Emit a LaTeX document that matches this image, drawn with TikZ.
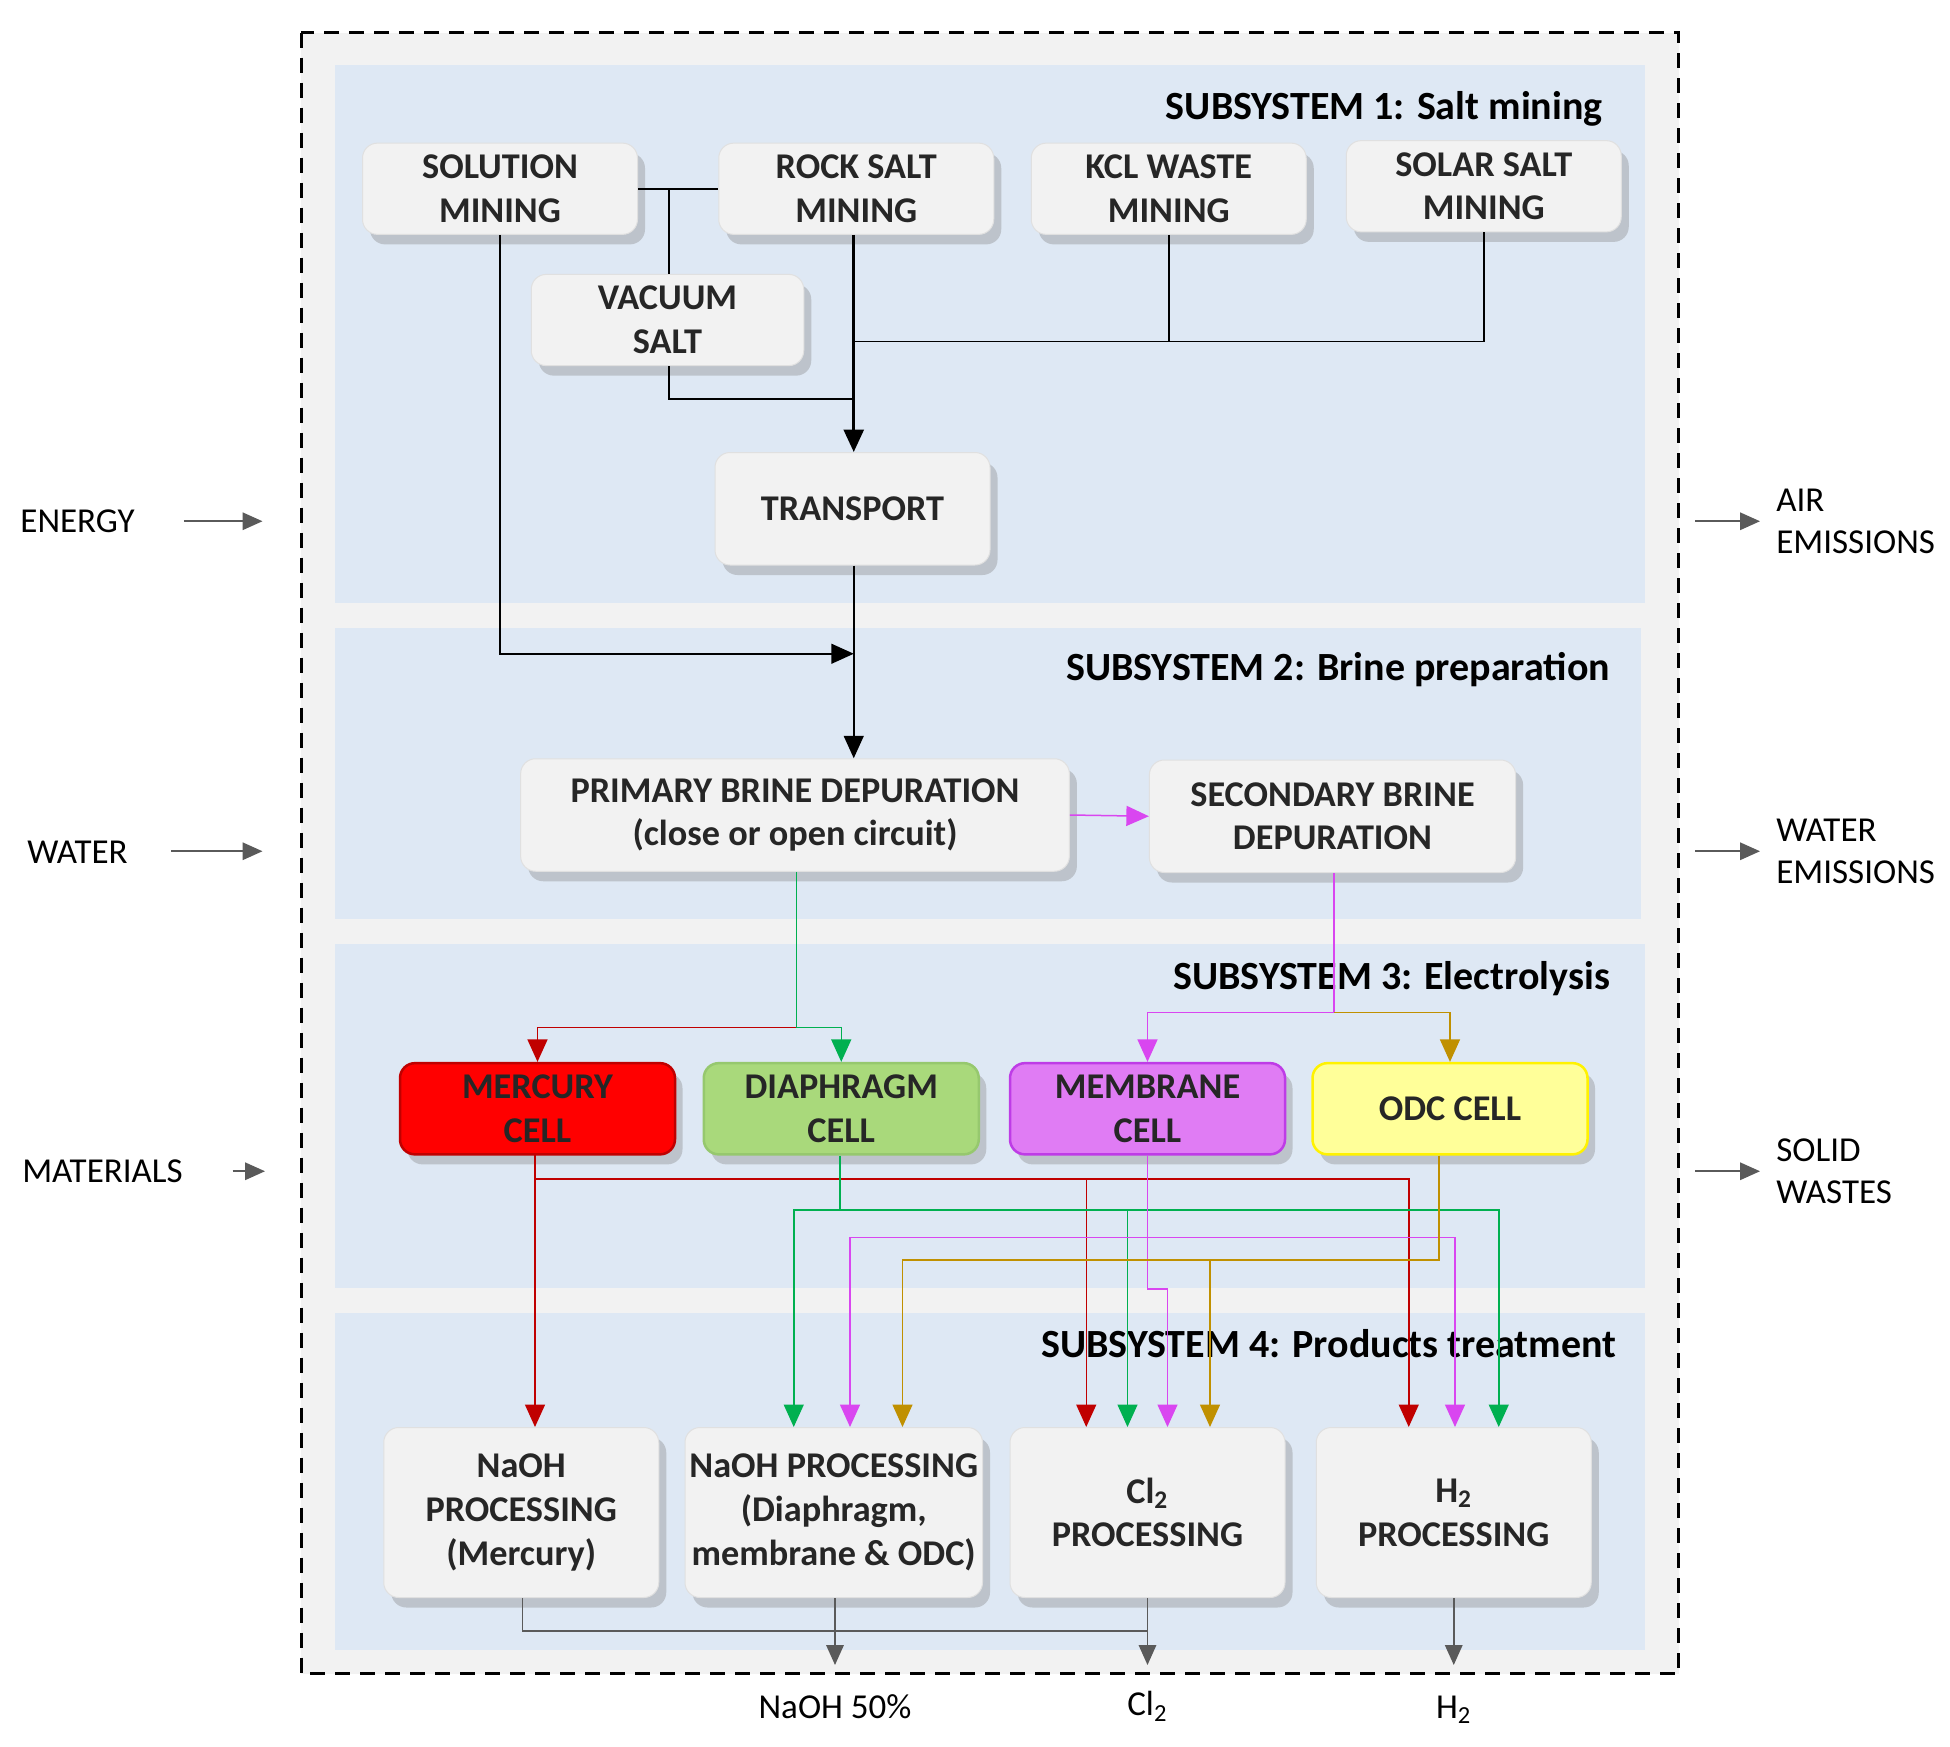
\documentclass[tikz,border=0pt]{standalone}
\usepackage{fontspec}
\setmainfont{Carlito}
\usetikzlibrary{shadows,arrows.meta,calc}
\definecolor{bgout}{HTML}{F2F2F2}
\definecolor{band}{HTML}{DEE8F4}
\definecolor{boxf}{HTML}{F2F2F2}
\definecolor{rc}{HTML}{C00000}
\definecolor{gc}{HTML}{00B050}
\definecolor{mc}{HTML}{D946F0}
\definecolor{oc}{HTML}{C09000}
\definecolor{gy}{HTML}{5A5A5A}
\begin{document}
\begin{tikzpicture}[x=0.5pt,y=-0.5pt,
  box/.style={draw=black!12,fill=boxf,rounded corners=6pt,minimum width=110pt,minimum height=36.5pt,align=center,
    font=\fontsize{14.5}{17.5}\selectfont\bfseries,text=black!85,
    drop shadow={shadow xshift=3pt,shadow yshift=-4pt,opacity=0.35,fill=gray}},
  ttl/.style={anchor=east,font=\fontsize{16}{18}\selectfont\bfseries},
  side/.style={font=\fontsize{14}{17}\selectfont,align=left},
  tip/.style={-{Triangle[width=8pt,length=9pt]}},
  ln/.style={line width=0.6pt},
  ga/.style={draw=gy,line width=0.7pt,-{Triangle[width=7pt,length=8pt]}}]
\useasboundingbox (0,0) rectangle (1560,1397);
\fill[white] (0,0) rectangle (1560,1397);
\draw[dashed,line width=1.3pt,fill=bgout,dash pattern=on 6pt off 4pt] (241,26) rectangle (1343,1339);
\fill[band] (268,52) rectangle (1316,482);
\fill[band] (268,502) rectangle (1313,735);
\fill[band] (268,755) rectangle (1316,1030);
\fill[band] (268,1050) rectangle (1316,1320);
\node[ttl] (t1) at (1289,87) {SUBSYSTEM 1: Salt mining};
\node[ttl] (t2) at (1295,536) {SUBSYSTEM 2: Brine preparation};
\node[ttl] (t3) at (1295,783) {SUBSYSTEM 3: Electrolysis};
\node[ttl] (t4) at (1300,1075) {SUBSYSTEM 4: Products treatment};
% boxes
\node[box] (sol) at (400,151) {SOLUTION\\MINING};
\node[box] (rock) at (685,151) {ROCK SALT\\MINING};
\node[box] (kcl) at (935,151) {KCL WASTE\\MINING};
\node[box] (solar) at (1187,149) {SOLAR SALT\\MINING};
\node[box,minimum width=109pt] (vac) at (534,256) {VACUUM\\SALT};
\node[box,minimum height=45pt] (trans) at (682,407) {TRANSPORT};
\node[box,minimum width=219.5pt,minimum height=45pt] (prim) at (636,652) {PRIMARY BRINE DEPURATION\\(close or open circuit)};
\node[box,minimum width=146.5pt,minimum height=45pt] (sec) at (1066,653) {SECONDARY BRINE\\DEPURATION};
\node[box,fill=red,draw=rc,line width=1pt] (merc) at (430,887) {MERCURY\\CELL};
\node[box,fill={rgb,255:red,169;green,217;blue,123},draw={rgb,255:red,150;green,200;blue,110},line width=1pt] (diaph) at (673,887) {DIAPHRAGM\\CELL};
\node[box,fill={rgb,255:red,224;green,124;blue,244},draw={rgb,255:red,190;green,60;blue,230},line width=1pt] (memb) at (918,887) {MEMBRANE\\CELL};
\node[box,fill={rgb,255:red,255;green,255;blue,153},draw=yellow,line width=1pt] (odc) at (1160,887) {ODC CELL};
\node[box,minimum height=68pt] (naohm) at (417,1210) {NaOH\\PROCESSING\\(Mercury)};
\node[box,minimum width=119pt,minimum height=68pt,inner xsep=1pt] (naohp) at (667,1210) {NaOH PROCESSING\\(Diaphragm,\\membrane \& ODC)};
\node[box,minimum height=68pt] (cl) at (918,1210) {Cl\textsubscript{2}\\PROCESSING};
\node[box,minimum height=68pt] (h2) at (1163,1210) {H\textsubscript{2}\\PROCESSING};
% subsystem 1 connectors
\draw[ln] (sol.east) -- (rock.west);
\coordinate (s1) at (535,151);
\draw[ln] (s1) -- (vac.north -| s1);
\coordinate (k1) at (683,273);
\draw[ln] (kcl.south) |- (k1);
\draw[ln] (solar.south) |- (kcl.south |- k1);
\coordinate (v1) at (683,319);
\draw[ln] (vac.south -| s1) |- (v1);
\draw[line width=1.2pt,tip] (rock.south -| k1) -- (trans.north -| k1);
\coordinate (j1) at (683,523);
\draw[ln,tip] (sol.south) |- (j1);
\draw[ln,tip] (trans.south -| k1) -- (prim.north -| k1);
% subsystem 2/3
\draw[ln,mc,tip] (prim.east) -- (sec.west);
\coordinate (g1) at (637,822);
\draw[ln,gc,tip] (prim.south -| g1) -- (g1) -| (diaph.north);
\draw[ln,rc,tip] (g1) -| (merc.north);
\coordinate (m1) at (1067,810);
\draw[ln,mc,tip] (sec.south -| m1) -- (m1) -| (memb.north);
\draw[ln,oc,tip] (m1) -| (odc.north);
% subsystem 3 -> 4
\coordinate (r0) at (428,923);
\coordinate (r1) at (428,943);
\draw[ln,rc,tip] (r0) -- (naohm.north -| r0);
\draw[ln,rc,tip] (r1) -| ([xshift=-24.5pt]cl.north);
\draw[ln,rc,tip] (r1) -| ([xshift=-18pt]h2.north);
\coordinate (g2) at (672,968);
\draw[ln,gc,tip] (diaph.south -| g2) -- (g2) -| ([xshift=-16pt]naohp.north);
\draw[ln,gc,tip] (g2) -| ([xshift=18pt]h2.north);
\coordinate (g3) at (902,968);
\draw[ln,gc,tip] (g3) -- (g3 |- cl.north);
\coordinate (m2) at (918,1031);
\coordinate (m3) at (918,990);
\draw[ln,mc,tip] (memb.south) -- (m2) -| ([xshift=8pt]cl.north);
\draw[ln,mc,tip] (m3) -| ([xshift=6.5pt]naohp.north);
\draw[ln,mc,tip] (m3) -| ([xshift=0.5pt]h2.north);
\coordinate (o1) at (1151,1008);
\draw[ln,oc,tip] (odc.south -| o1) -- (o1) -| ([xshift=27.5pt]naohp.north);
\coordinate (o2) at (968,1008);
\draw[ln,oc,tip] (o2) -- (o2 |- cl.north);
% outputs
\coordinate (c1) at (418,1305);
\coordinate (c2) at (918,1305);
\coordinate (out1) at (668,1332);
\coordinate (out2) at (918,1332);
\coordinate (out3) at (1163,1332);
\draw[draw=gy,line width=0.7pt] (naohm.south -| c1) |- (c2);
\draw[ga] (naohp.south -| out1) -- (out1);
\draw[ga] (cl.south) -- (out2);
\draw[ga] (h2.south) -- (out3);
\node[side] (lo1) at (668,1365) {NaOH 50\%};
\node[side] (lo2) at (918,1365) {Cl\textsubscript{2}};
\node[side] (lo3) at (1163,1368) {H\textsubscript{2}};
% side inputs
\node[side] (en) at (62,417) {ENERGY};
\node[side] (wa) at (62,682) {WATER};
\node[side] (ma) at (82,937) {MATERIALS};
\coordinate (e1) at (147,417); \coordinate (e2) at (210,417);
\coordinate (w1) at (137,681); \coordinate (w2) at (210,681);
\coordinate (a1) at (186,937); \coordinate (a2) at (212,937);
\draw[ga] (e1) -- (e2);
\draw[ga] (w1) -- (w2);
\draw[ga] (a1) -- (a2);
\coordinate (x1) at (1356,417); \coordinate (x2) at (1408,417);
\coordinate (y1) at (1356,681); \coordinate (y2) at (1408,681);
\coordinate (z1) at (1356,937); \coordinate (z2) at (1408,937);
\draw[ga] (x1) -- (x2);
\draw[ga] (y1) -- (y2);
\draw[ga] (z1) -- (z2);
\node[side,anchor=west] (ae) at (1414,417) {AIR\\EMISSIONS};
\node[side,anchor=west] (we) at (1414,681) {WATER\\EMISSIONS};
\node[side,anchor=west] (sw) at (1414,937) {SOLID\\WASTES};
\end{tikzpicture}
\end{document}
